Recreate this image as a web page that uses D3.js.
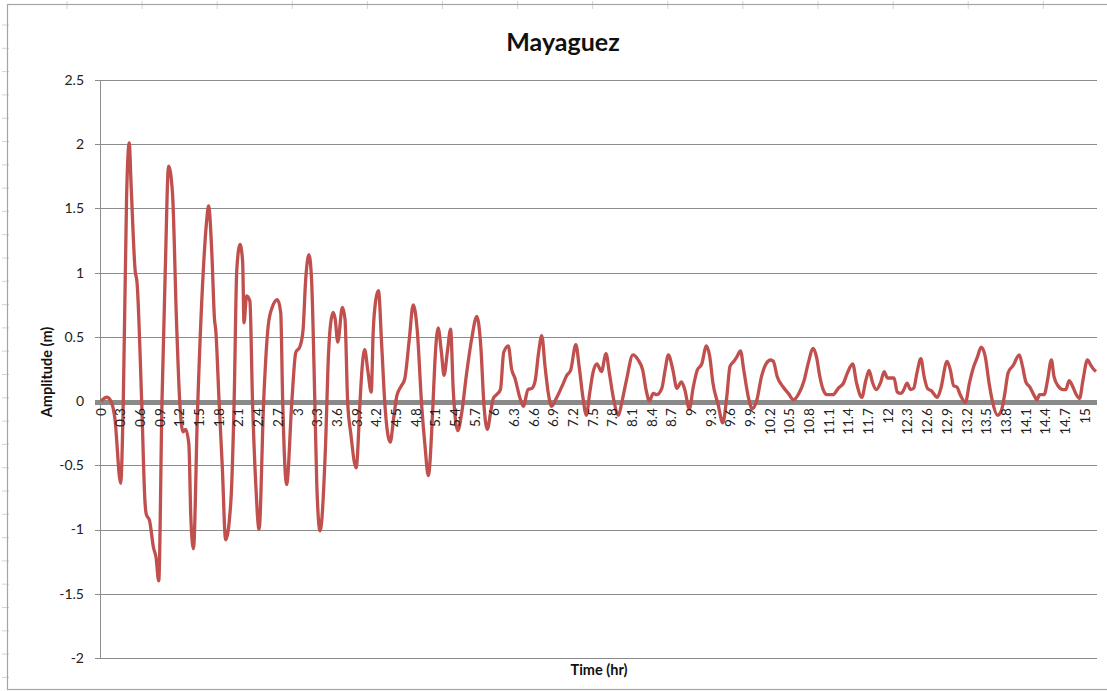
<!DOCTYPE html>
<html>
<head>
<meta charset="utf-8">
<script src="https://cdn.jsdelivr.net/npm/d3@7"></script>
<style>
    body { margin: 0; background: #fff; }
    svg { display: block; font-family: Lato, "Open Sans", sans-serif; }
</style>
</head>
<body>
<svg id="gfx" width="1107" height="691"></svg>
<script>
// time (hr) and amplitude (m)
var times = [
    0.00, 0.09, 0.16, 0.21, 0.30, 0.34, 0.39, 0.43, 0.46, 0.52, 0.55, 0.62, 0.67, 0.69, 0.74, 0.80, 0.84, 0.88, 0.93, 0.98,
    1.03, 1.09, 1.15, 1.20, 1.25, 1.29, 1.34, 1.37, 1.41, 1.47, 1.56, 1.61, 1.64, 1.69, 1.73, 1.75, 1.80, 1.85, 1.90, 1.98,
    2.03, 2.07, 2.12, 2.16, 2.18, 2.22, 2.27, 2.31, 2.36, 2.41, 2.48, 2.55, 2.61, 2.69, 2.74, 2.77, 2.83, 2.91, 2.97,
    3.03, 3.08, 3.12, 3.17, 3.21, 3.26, 3.29, 3.34, 3.42, 3.47, 3.50, 3.54, 3.57, 3.61, 3.68, 3.72, 3.76, 3.81, 3.89, 3.95, 3.97,
    4.02, 4.07, 4.12, 4.15, 4.19, 4.23, 4.28, 4.33, 4.41, 4.46, 4.51, 4.58, 4.63, 4.70, 4.76, 4.82, 4.89, 4.94, 4.99,
    5.06, 5.09, 5.14, 5.19, 5.23, 5.28, 5.33, 5.37, 5.44, 5.50, 5.57, 5.65, 5.73, 5.79, 5.84, 5.89, 5.94, 5.98,
    6.03, 6.09, 6.14, 6.21, 6.26, 6.31, 6.39, 6.44, 6.51, 6.57, 6.62, 6.67, 6.72, 6.77, 6.82, 6.87, 6.94,
    7.05, 7.10, 7.16, 7.24, 7.29, 7.35, 7.40, 7.45, 7.50, 7.56, 7.63, 7.70, 7.75, 7.81, 7.89, 7.94,
    8.01, 8.11, 8.19, 8.26, 8.31, 8.36, 8.42, 8.47, 8.55, 8.60, 8.65, 8.72, 8.78, 8.85, 8.90, 8.97,
    9.03, 9.09, 9.16, 9.23, 9.28, 9.33, 9.41, 9.48, 9.54, 9.59, 9.65, 9.69, 9.75, 9.80, 9.87, 9.93,
    10.00, 10.07, 10.14, 10.21, 10.25, 10.31, 10.40, 10.48, 10.56, 10.63, 10.72, 10.78, 10.86, 10.91, 10.96,
    11.01, 11.07, 11.16, 11.24, 11.32, 11.38, 11.46, 11.52, 11.60, 11.66, 11.71, 11.76, 11.82, 11.89, 11.94, 11.99,
    12.04, 12.09, 12.14, 12.20, 12.24, 12.29, 12.34, 12.39, 12.44, 12.50, 12.55, 12.60, 12.66, 12.75, 12.80, 12.90, 12.95,
    13.00, 13.05, 13.10, 13.18, 13.24, 13.30, 13.36, 13.42, 13.48, 13.54, 13.59, 13.67, 13.73, 13.78, 13.83, 13.91,
    14.00, 14.05, 14.10, 14.16, 14.22, 14.27, 14.31, 14.38, 14.43, 14.49, 14.53, 14.59, 14.67, 14.71, 14.76, 14.81, 14.86, 14.92, 14.97,
    15.04, 15.09, 15.13, 15.17
];

var amplitude = [
    0.00, 0.03, -0.01, -0.13, -0.64, 0.00, 1.59, 2.01, 1.67, 1.02, 0.92, 0.00, -0.78, -0.88, -0.93, -1.14, -1.22, -1.40, 0.00, 1.02,
    1.83, 1.62, 0.64, 0.00, -0.24, -0.22, -0.34, -0.91, -1.15, -0.10, 1.02, 1.40, 1.52, 1.15, 0.64, 0.55, 0.00, -0.52, -1.08, -0.78,
    0.00, 1.02, 1.22, 1.08, 0.61, 0.82, 0.78, 0.00, -0.65, -1.00, 0.00, 0.59, 0.73, 0.79, 0.69, 0.00, -0.65, 0.00, 0.38,
    0.42, 0.55, 0.94, 1.14, 0.95, 0.00, -0.65, -1.01, -0.39, 0.38, 0.60, 0.69, 0.64, 0.46, 0.73, 0.64, 0.00, -0.26, -0.52, 0.00, 0.18,
    0.40, 0.23, 0.07, 0.54, 0.79, 0.86, 0.43, -0.04, -0.32, -0.14, 0.04, 0.12, 0.17, 0.48, 0.75, 0.56, -0.04, -0.35, -0.58,
    -0.04, 0.30, 0.57, 0.38, 0.20, 0.38, 0.56, 0.09, -0.23, -0.09, 0.20, 0.48, 0.66, 0.43, -0.04, -0.22, -0.09, 0.02,
    0.05, 0.09, 0.38, 0.43, 0.25, 0.18, 0.02, -0.04, 0.09, 0.10, 0.16, 0.37, 0.51, 0.27, 0.06, -0.04, 0.02,
    0.14, 0.20, 0.24, 0.44, 0.27, 0.02, -0.11, 0.06, 0.22, 0.29, 0.23, 0.37, 0.22, 0.03, -0.11, -0.01,
    0.16, 0.36, 0.32, 0.24, 0.09, 0.00, 0.06, 0.05, 0.10, 0.24, 0.36, 0.24, 0.10, 0.15, 0.09, -0.06,
    0.11, 0.24, 0.29, 0.43, 0.35, 0.14, -0.03, -0.17, 0.03, 0.27, 0.31, 0.34, 0.39, 0.24, 0.03, -0.06,
    0.01, 0.19, 0.29, 0.32, 0.31, 0.19, 0.11, 0.06, 0.01, 0.05, 0.16, 0.29, 0.41, 0.34, 0.19,
    0.09, 0.05, 0.05, 0.10, 0.14, 0.22, 0.29, 0.14, 0.03, 0.16, 0.24, 0.15, 0.09, 0.15, 0.23, 0.18,
    0.18, 0.18, 0.07, 0.06, 0.09, 0.14, 0.09, 0.10, 0.22, 0.33, 0.19, 0.10, 0.08, 0.03, 0.09, 0.31, 0.24,
    0.12, 0.11, 0.05, -0.01, 0.14, 0.26, 0.34, 0.42, 0.35, 0.14, 0.00, -0.11, -0.07, 0.06, 0.22, 0.28,
    0.36, 0.27, 0.15, 0.11, 0.05, 0.01, 0.05, 0.05, 0.16, 0.32, 0.19, 0.12, 0.09, 0.09, 0.16, 0.12, 0.06, 0.02, 0.16,
    0.32, 0.28, 0.25, 0.23
];

var yTicks = [2.5, 2, 1.5, 1, 0.5, 0, -0.5, -1, -1.5, -2];
var xTickValues = d3.range(0, 51).map(i => Math.round(i * 3) / 10);
var xTickLabels = xTickValues.map(v => String(v));

var chart = {};

function initialise() {
    chart.svg = d3.select("#gfx");
    chart.x = d3.scaleLinear().domain([0, 15.17]).range([101, 1096]);
    chart.y = d3.scaleLinear().domain([-2, 2.5]).range([658, 80]);
    chart.left = 100;
    chart.right = 1097;

    drawFrame();
    drawGrid();
    drawSeries();
    drawLabels();
}

function drawFrame() {
    var svg = chart.svg;

    // spreadsheet cell marks peeking through the chart border
    svg.append("g").selectAll("line.colmark")
        .data(d3.range(67, 1107, 75.1))
        .enter().append("line")
        .attr("x1", d => d).attr("x2", d => d)
        .attr("y1", 1).attr("y2", 9)
        .attr("stroke", "#d4d4d4");
    svg.append("g").selectAll("line.rowmark")
        .data(d3.range(25, 691, 23.3))
        .enter().append("line")
        .attr("x1", 2).attr("x2", 9)
        .attr("y1", d => d).attr("y2", d => d)
        .attr("stroke", "#d4d4d4");

    svg.append("rect")
        .attr("x", 7.5).attr("y", 4.5)
        .attr("width", 1110).attr("height", 685)
        .attr("fill", "none")
        .attr("stroke", "#a5a5a5")
        .attr("stroke-width", 1.2);
}

function drawGrid() {
    var svg = chart.svg;
    var y = chart.y;

    var grid = svg.append("g").attr("class", "grid");
    grid.selectAll("line")
        .data(yTicks.filter(d => d !== 0))
        .enter().append("line")
        .attr("x1", chart.left - 5).attr("x2", chart.right)
        .attr("y1", d => Math.round(y(d)) + 0.5)
        .attr("y2", d => Math.round(y(d)) + 0.5)
        .attr("stroke", "#8c8c8c")
        .attr("stroke-width", 1);

    // vertical axis
    svg.append("line")
        .attr("x1", chart.left + 0.5).attr("x2", chart.left + 0.5)
        .attr("y1", y(2.5)).attr("y2", y(-2))
        .attr("stroke", "#8c8c8c");

    svg.append("g").attr("class", "ylabels")
        .selectAll("text")
        .data(yTicks)
        .enter().append("text")
        .attr("x", 84)
        .attr("y", d => y(d))
        .attr("dy", "0.35em")
        .attr("text-anchor", "end")
        .attr("font-size", 14)
        .attr("fill", "#222")
        .text(d => String(d));
}

function drawSeries() {
    var svg = chart.svg;
    var x = chart.x, y = chart.y;

    // thick horizontal axis at zero
    svg.append("line")
        .attr("x1", chart.left - 5).attr("x2", chart.right)
        .attr("y1", y(0) + 1.5).attr("y2", y(0) + 1.5)
        .attr("stroke", "#8a8a8a")
        .attr("stroke-width", 5);

    var points = times.map((t, i) => [t, amplitude[i]]);
    var line = d3.line()
        .x(d => x(d[0]))
        .y(d => y(d[1]))
        .curve(d3.curveMonotoneX);

    svg.append("path")
        .datum(points)
        .attr("fill", "none")
        .attr("stroke", "#c0504d")
        .attr("stroke-width", 3.3)
        .attr("stroke-linejoin", "round")
        .attr("d", line);
}

function drawLabels() {
    var svg = chart.svg;
    var x = chart.x, y = chart.y;
    var top = y(0) + 7;

    svg.append("g").attr("class", "xlabels")
        .selectAll("text")
        .data(xTickValues)
        .enter().append("text")
        .attr("transform", d => "translate(" + x(d) + "," + top + ") rotate(-90)")
        .attr("dy", "0.35em")
        .attr("text-anchor", "end")
        .attr("font-size", 13.5)
        .attr("fill", "#222")
        .text((d, i) => xTickLabels[i]);

    svg.append("text")
        .attr("x", 563).attr("y", 51)
        .attr("text-anchor", "middle")
        .attr("font-size", 25)
        .attr("font-weight", "bold")
        .attr("fill", "#111")
        .text("Mayaguez");

    svg.append("text")
        .attr("transform", "translate(52,372) rotate(-90)")
        .attr("text-anchor", "middle")
        .attr("font-size", 14.5)
        .attr("font-weight", "bold")
        .attr("fill", "#111")
        .text("Amplitude (m)");

    svg.append("text")
        .attr("x", 599).attr("y", 675)
        .attr("text-anchor", "middle")
        .attr("font-size", 14.5)
        .attr("font-weight", "bold")
        .attr("fill", "#111")
        .text("Time (hr)");
}

initialise();
</script>
</body>
</html>
